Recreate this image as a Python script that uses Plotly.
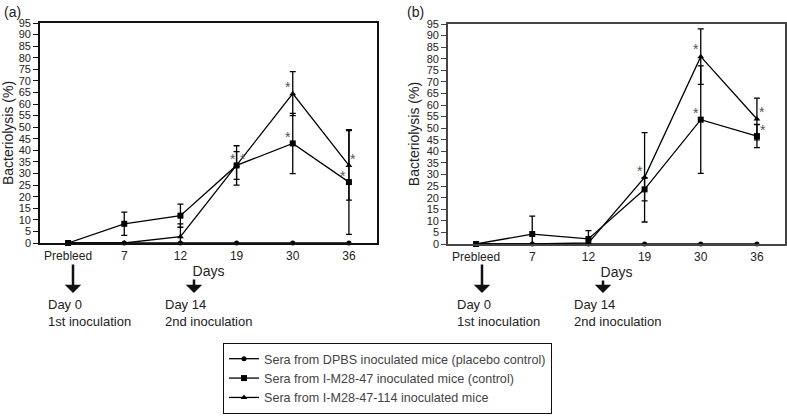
import plotly.graph_objects as go

W, H = 787, 419

categories = ["Prebleed", "7", "12", "19", "30", "36"]

# Panel (a)
a_dpbs = [0, 0, 0, 0, 0, 0]
a_m47 = [0, 8.3, 11.8, 33.5, 43.0, 26.3]
a_m47_plus = [0, 5.0, 5.0, 8.5, 13.0, 22.6]
a_m47_minus = [0, 5.0, 5.0, 8.5, 13.0, 22.6]
a_m114 = [0, 0, 2.7, 33.5, 64.5, 33.5]
a_m114_plus = [0, 0, 5.6, 6.0, 9.5, 15.0]
a_m114_minus = [0, 0, 2.7, 6.0, 9.5, 15.0]

# Panel (b)
b_dpbs = [0, 0, 0, 0, 0, 0]
b_m47 = [0, 4.3, 2.2, 23.6, 53.7, 46.6]
b_m47_plus = [0, 7.7, 3.6, 5.0, 23.2, 5.0]
b_m47_minus = [0, 4.3, 2.2, 5.0, 23.2, 5.0]
b_m114 = [0, 0, 0.5, 28.8, 80.9, 54.0]
b_m114_plus = [0, 0, 0, 19.3, 12.0, 9.0]
b_m114_minus = [0, 0, 0, 19.3, 12.0, 9.0]

series_names = [
    "Sera from DPBS inoculated mice (placebo control)",
    "Sera from I-M28-47 inoculated mice (control)",
    "Sera from I-M28-47-114 inoculated mice",
]

yticks = list(range(0, 100, 5))

FONT = "Liberation Sans, Arial, sans-serif"

fig = go.Figure()


def add_panel(xa, ya, dpbs, m47, m47p, m47m, m114, m114p, m114m, show):
    lw = 1.3
    fig.add_trace(go.Scatter(
        x=categories, y=m114, xaxis=xa, yaxis=ya, mode="lines+markers",
        name=series_names[2], showlegend=show, legendrank=3, cliponaxis=False,
        line=dict(color="black", width=lw),
        marker=dict(symbol="triangle-up", size=6, color="black"),
        error_y=dict(type="data", symmetric=False, array=m114p, arrayminus=m114m,
                     color="black", thickness=1.3, width=3),
    ))
    fig.add_trace(go.Scatter(
        x=categories, y=m47, xaxis=xa, yaxis=ya, mode="lines+markers",
        name=series_names[1], showlegend=show, legendrank=2, cliponaxis=False,
        line=dict(color="black", width=lw),
        marker=dict(symbol="square", size=6, color="black"),
        error_y=dict(type="data", symmetric=False, array=m47p, arrayminus=m47m,
                     color="black", thickness=1.3, width=3),
    ))
    fig.add_trace(go.Scatter(
        x=categories, y=dpbs, xaxis=xa, yaxis=ya, mode="lines+markers",
        name=series_names[0], showlegend=show, legendrank=1, cliponaxis=False,
        line=dict(color="black", width=lw),
        marker=dict(symbol="circle", size=5, color="black"),
    ))


add_panel("x", "y", a_dpbs, a_m47, a_m47_plus, a_m47_minus,
          a_m114, a_m114_plus, a_m114_minus, True)
add_panel("x2", "y2", b_dpbs, b_m47, b_m47_plus, b_m47_minus,
          b_m114, b_m114_plus, b_m114_minus, False)


def xaxis_cfg(x0, x1, lc):
    return dict(
        domain=[x0 / W, x1 / W], type="category", categoryorder="array",
        categoryarray=categories, range=[-0.5, 5.5],
        showline=True, mirror=True, linecolor=lc, linewidth=1.6,
        ticks="", ticklabelstandoff=1, showgrid=False, zeroline=False, automargin=False,
        tickfont=dict(size=12, color="#222", family=FONT),
        title=dict(text="Days", font=dict(size=14, color="#222", family=FONT), standoff=4),
    )


def yaxis_cfg(y_top, y_bot, lc):
    return dict(
        domain=[(H - y_bot) / H, (H - y_top) / H], range=[0, 95],
        tickvals=yticks, ticks="outside", ticklen=5, tickwidth=1, tickcolor=lc,
        showline=True, mirror=True, linecolor=lc, linewidth=1.6,
        showgrid=False, zeroline=False, automargin=False,
        tickfont=dict(size=11, color="#222", family=FONT),
        title=dict(text="Bacteriolysis (%)", font=dict(size=14, color="#222", family=FONT),
                   standoff=4),
    )


fig.update_layout(
    width=W, height=H,
    margin=dict(l=0, r=0, t=0, b=0),
    paper_bgcolor="white", plot_bgcolor="white",
    font=dict(family=FONT, color="#222"),
    xaxis=xaxis_cfg(40, 377, "#111"),
    yaxis=dict(yaxis_cfg(23, 243, "#111"), anchor="x"),
    xaxis2=dict(xaxis_cfg(448, 785, "#444"), anchor="y2"),
    yaxis2=dict(yaxis_cfg(24, 244, "#444"), anchor="x2"),
    legend=dict(
        x=223 / W, y=(H - 343) / H, xanchor="left", yanchor="top",
        bordercolor="#111", borderwidth=1, bgcolor="white",
        font=dict(size=12.6, color="#444", family=FONT),
        tracegroupgap=0, itemwidth=30,
    ),
)

annotations = []
# Panel labels
annotations.append(dict(text="(a)", x=2 / W, y=(H - 12) / H, xref="paper", yref="paper",
                        xanchor="left", yanchor="middle", showarrow=False,
                        font=dict(size=14, color="#222", family=FONT)))
annotations.append(dict(text="(b)", x=405 / W, y=(H - 12) / H, xref="paper", yref="paper",
                        xanchor="left", yanchor="middle", showarrow=False,
                        font=dict(size=14, color="#222", family=FONT)))

# Inoculation arrows and texts: (arrow x px, tail length px, text left px, text)
inoc = [
    (73, 30, 46, "Day 0<br>1st inoculation"),
    (194, 15, 163, "Day 14<br>2nd inoculation"),
    (482, 30, 455, "Day 0<br>1st inoculation"),
    (603, 14, 572, "Day 14<br>2nd inoculation"),
]
for ax_px, length, tx, txt in inoc:
    annotations.append(dict(text="", x=ax_px / W, y=(H - 293) / H, xref="paper", yref="paper",
                            showarrow=True, arrowhead=1, arrowsize=1.1, arrowwidth=2.5,
                            arrowcolor="#111", ax=0, ay=-length, standoff=0))
    annotations.append(dict(text=txt, x=tx / W, y=(H - 295) / H, xref="paper", yref="paper",
                            xanchor="left", yanchor="top", align="left", showarrow=False,
                            font=dict(size=13, color="#222", family=FONT)))

# Significance asterisks: (xref, yref, series values, category index, xshift, yshift)
stars = [
    ("x", "y", a_m114, 3, -4, 6),
    ("x", "y", a_m47, 3, 6, 6),
    ("x", "y", a_m114, 4, -5, 7),
    ("x", "y", a_m47, 4, -5, 6),
    ("x", "y", a_m114, 5, 4, 6),
    ("x", "y", a_m47, 5, -6, 6),
    ("x2", "y2", b_m114, 3, -5, 6),
    ("x2", "y2", b_m114, 4, -5, 8),
    ("x2", "y2", b_m47, 4, -5, 7),
    ("x2", "y2", b_m114, 5, 5, 7),
    ("x2", "y2", b_m47, 5, 6, 6),
]
for xr, yr, vals, i, xs, ys in stars:
    annotations.append(dict(text="*", x=i, y=vals[i], xref=xr, yref=yr,
                            xshift=xs, yshift=ys, showarrow=False,
                            xanchor="center", yanchor="middle",
                            font=dict(size=14, color="#555", family=FONT)))

fig.update_layout(annotations=annotations)

fig.write_html("out.html", config={"displayModeBar": False},
               post_script="document.body.style.margin='0';")
